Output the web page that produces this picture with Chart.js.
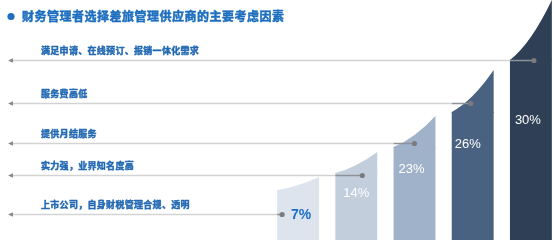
<!DOCTYPE html>
<html>
<head>
<meta charset="utf-8">
<script src="https://cdn.jsdelivr.net/npm/chart.js@4.4.1/dist/chart.umd.min.js"></script>
<style>
    html, body { margin: 0; padding: 0; background: #ffffff; overflow: hidden; }
    #wrap { width: 554px; height: 240px; overflow: hidden; }
</style>
</head>
<body>
<div id="wrap"><canvas id="factorCanvas" width="562" height="240"></canvas></div>
<script>
// dados
const chartTitle = '财务管理者选择差旅管理供应商的主要考虑因素';
const categories = [
    '上市公司，自身财税管理合规、透明',
    '实力强，业界知名度高',
    '提供月结服务',
    '服务费高低',
    '满足申请、在线预订、报销一体化需求'
];
const shares = [7, 14, 23, 26, 30];
// altura das barras (escala oculta 0-100): ombro esquerdo e pico direito
const barShoulder = [20.8, 27.9, 38.8, 53.3, 75];
const barPeak = [26.3, 36.7, 51.7, 70.8, 100];
// nível da linha guia de cada categoria
const leaderLevel = [10.8, 27.1, 40.4, 57.1, 75];

const barColors = ['#dde4ee', '#c3cedd', '#a0b2ca', '#4a6282', '#2e3f56'];
const blue = '#1f6fbf';
const cjkFont = '"Noto Sans CJK SC", "Noto Sans", sans-serif';

// texto com negrito reforçado
function boldText(ctx, text, x, y, color, weight) {
    ctx.fillStyle = color;
    ctx.strokeStyle = color;
    ctx.lineWidth = weight;
    ctx.lineJoin = 'round';
    ctx.fillText(text, x, y);
    ctx.strokeText(text, x, y);
}

// Plugin para o topo curvo, linhas guia e textos
const decoPlugin = {
    id: 'deco',
    afterDatasetsDraw(chart, args, opts) {
        const ctx = chart.ctx;
        const yScale = chart.scales.y;
        const meta = chart.getDatasetMeta(0);

        ctx.save();

        // topo inclinado das barras
        meta.data.forEach((bar, i) => {
            const left = bar.x - bar.width / 2;
            const right = bar.x + bar.width / 2;
            const yS = bar.y;
            const yP = yScale.getPixelForValue(barPeak[i]);
            const d = yS - yP;
            ctx.beginPath();
            ctx.moveTo(left, yS + 1);
            ctx.lineTo(left, yS);
            ctx.quadraticCurveTo(left + bar.width * 0.5, yS - d * 0.27, right, yP);
            ctx.lineTo(right, yS + 1);
            ctx.closePath();
            ctx.fillStyle = barColors[i];
            ctx.fill();
        });

        // linhas guia + pontos + rótulos à esquerda
        meta.data.forEach((bar, i) => {
            const left = bar.x - bar.width / 2;
            const ly = Math.round(yScale.getPixelForValue(leaderLevel[i])) + 0.5;
            const dotX = i === 0 ? left + 5 : bar.x + opts.dotShift[i];

            ctx.lineWidth = 1.5;
            ctx.strokeStyle = '#d3d3d3';
            ctx.beginPath();
            ctx.moveTo(10, ly);
            ctx.lineTo(left, ly);
            ctx.stroke();
            ctx.strokeStyle = '#8e9299';
            ctx.beginPath();
            ctx.moveTo(left, ly);
            ctx.lineTo(dotX, ly);
            ctx.stroke();

            // seta
            ctx.fillStyle = '#8a8a8a';
            ctx.beginPath();
            ctx.moveTo(8, ly);
            ctx.lineTo(13, ly - 2.2);
            ctx.lineTo(13, ly + 2.2);
            ctx.closePath();
            ctx.fill();

            // ponto
            ctx.fillStyle = '#7b7b7b';
            ctx.beginPath();
            ctx.arc(dotX, ly, 2.6, 0, Math.PI * 2);
            ctx.fill();

            // rótulo da categoria
            ctx.font = 'bold 9px ' + cjkFont;
            ctx.letterSpacing = '0.3px';
            ctx.textAlign = 'left';
            ctx.textBaseline = 'middle';
            boldText(ctx, categories[i], 41, ly - 9.5, '#2369b3', 0.45);
            ctx.letterSpacing = '0px';
        });

        // valores
        meta.data.forEach((bar, i) => {
            const vy = yScale.getPixelForValue(opts.valueLevel[i]);
            ctx.textAlign = 'center';
            ctx.textBaseline = 'middle';
            if (i === 0) {
                ctx.font = 'bold 14px "Liberation Sans", Arial, sans-serif';
                ctx.fillStyle = '#1a6fc9';
            } else {
                ctx.font = '13px "Liberation Sans", Arial, sans-serif';
                ctx.fillStyle = '#ffffff';
            }
            ctx.fillText(shares[i] + '%', bar.x + opts.valueShift[i], vy);
        });

        // título
        ctx.fillStyle = blue;
        ctx.beginPath();
        ctx.arc(11, 16.5, 3.6, 0, Math.PI * 2);
        ctx.fill();
        ctx.font = 'bold 12px ' + cjkFont;
        ctx.letterSpacing = '0.5px';
        ctx.textAlign = 'left';
        ctx.textBaseline = 'middle';
        boldText(ctx, chartTitle, 22, 16.5, blue, 0.5);

        ctx.restore();
    }
};

const chartFactors = new Chart(document.getElementById('factorCanvas'), {
    type: 'bar',
    data: {
        labels: categories,
        datasets: [{
            label: 'Fatores',
            data: barShoulder,
            backgroundColor: barColors,
            borderWidth: 0,
            categoryPercentage: 1,
            barPercentage: 0.72
        }]
    },
    options: {
        responsive: false,
        animation: false,
        layout: {
            padding: { left: 269, right: 2, top: 0, bottom: 0 }
        },
        plugins: {
            legend: { display: false },
            tooltip: { enabled: false },
            deco: {
                dotShift: [0, 6, 0, -2, 3],
                valueShift: [3, 0, -3, -5, -3],
                valueLevel: [10.4, 19.2, 29.2, 40, 50]
            }
        },
        scales: {
            x: { display: false },
            y: { display: false, min: 0, max: 100 }
        }
    },
    plugins: [decoPlugin]
});
</script>
</body>
</html>
